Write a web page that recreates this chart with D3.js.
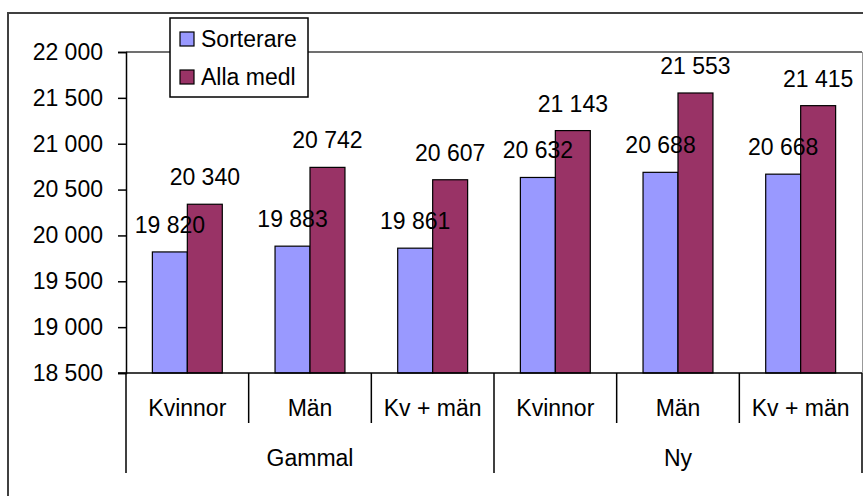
<!DOCTYPE html>
<html lang="sv">
<head>
    <meta charset="UTF-8">
    <title>Sorterare vs Alla medl</title>
    <style>
        body { margin: 0; background: #fff; }
        svg { display: block; font-family: "Liberation Sans", Arial, sans-serif; }
    </style>
</head>
<body>
<div id="chart"></div>
<script src="https://d3js.org/d3.v7.min.js"></script>
<script>
    // Data
    const groups = ["Gammal", "Ny"];
    const categories = ["Kvinnor", "Män", "Kv + män"];
    const seriesNames = ["Sorterare", "Alla medl"];
    const sorterare = [19820, 19883, 19861, 20632, 20688, 20668];
    const allaMedl = [20340, 20742, 20607, 21143, 21553, 21415];
    const yTicks = [18500, 19000, 19500, 20000, 20500, 21000, 21500, 22000];

    const colors = { "Sorterare": "#9999ff", "Alla medl": "#993366" };

    const width = 863, height = 496;
    const plot = { left: 126, right: 862, top: 52, bottom: 373 };

    const svg = d3.select("#chart").append("svg")
        .attr("width", width)
        .attr("height", height);

    // outer chart border (runs off the right and bottom edge)
    svg.append("rect")
        .attr("x", 8).attr("y", 13)
        .attr("width", 900).attr("height", 600)
        .attr("fill", "none")
        .attr("stroke", "#404040")
        .attr("stroke-width", 2);

    const fmt = d3.formatLocale({ decimal: ",", thousands: " ", grouping: [3], currency: ["", " kr"] }).format(",d");

    // one slot per group/category pair
    const slots = [];
    groups.forEach(g => categories.forEach(c => slots.push(g + "|" + c)));

    const x = d3.scaleBand().domain(slots).range([plot.left, plot.right]).padding(0);
    const xInner = d3.scaleBand().domain(seriesNames)
        .range([x.bandwidth() * 0.215, x.bandwidth() * 0.785]);
    const y = d3.scaleLinear().domain([18500, 22000]).range([plot.bottom, plot.top]);

    // plot area top + right edge
    svg.append("line")
        .attr("x1", plot.left).attr("x2", plot.right)
        .attr("y1", plot.top).attr("y2", plot.top)
        .attr("stroke", "#404040").attr("stroke-width", 1.5);
    svg.append("line")
        .attr("x1", plot.right + 0.5).attr("x2", plot.right + 0.5)
        .attr("y1", plot.top).attr("y2", plot.bottom)
        .attr("stroke", "#999");

    // y axis
    const yAxis = svg.append("g")
        .attr("transform", `translate(${plot.left},0)`)
        .call(d3.axisLeft(y).tickValues(yTicks).tickFormat(fmt).tickSize(8).tickPadding(15));
    yAxis.select(".domain").attr("stroke", "#000").attr("stroke-width", 1.5);
    yAxis.selectAll(".tick line").attr("stroke", "#000").attr("stroke-width", 1.5);
    yAxis.selectAll(".tick text")
        .attr("fill", "#000")
        .style("font-size", "23px")
        .style("font-family", "'Liberation Sans', Arial, sans-serif");

    // bars
    const rows = slots.map((s, i) => ({ slot: s, values: [
        { name: seriesNames[0], value: sorterare[i] },
        { name: seriesNames[1], value: allaMedl[i] }
    ] }));

    const slotG = svg.append("g").selectAll("g")
        .data(rows).join("g")
        .attr("transform", d => `translate(${x(d.slot)},0)`);

    slotG.selectAll("rect")
        .data(d => d.values).join("rect")
        .attr("x", d => xInner(d.name))
        .attr("y", d => y(d.value))
        .attr("width", xInner.bandwidth())
        .attr("height", d => y(18500) - y(d.value))
        .attr("fill", d => colors[d.name])
        .attr("stroke", "#000")
        .attr("stroke-width", 1.2);

    slotG.selectAll("text")
        .data(d => d.values).join("text")
        .attr("x", d => xInner(d.name) + xInner.bandwidth() / 2)
        .attr("y", d => y(d.value) - 19)
        .attr("text-anchor", "middle")
        .style("font-size", "23px")
        .attr("fill", "#000")
        .text(d => fmt(d.value));

    // category axis
    svg.append("line")
        .attr("x1", plot.left - 8).attr("x2", plot.right)
        .attr("y1", plot.bottom).attr("y2", plot.bottom)
        .attr("stroke", "#000").attr("stroke-width", 1.5);

    slots.forEach((s, i) => {
        const edge = x(s);
        const isGroupEdge = i % categories.length === 0;
        svg.append("line")
            .attr("x1", edge).attr("x2", edge)
            .attr("y1", plot.bottom).attr("y2", isGroupEdge ? 473 : 423)
            .attr("stroke", "#000").attr("stroke-width", 1.5);
    });
    svg.append("line")
        .attr("x1", plot.right).attr("x2", plot.right)
        .attr("y1", plot.bottom).attr("y2", 473)
        .attr("stroke", "#000").attr("stroke-width", 1.5);

    svg.append("g").selectAll("text")
        .data(slots).join("text")
        .attr("x", d => x(d) + x.bandwidth() / 2)
        .attr("y", 416)
        .attr("text-anchor", "middle")
        .style("font-size", "23px")
        .text(d => d.split("|")[1]);

    svg.append("g").selectAll("text")
        .data(groups).join("text")
        .attr("x", (g, i) => x(slots[i * categories.length]) + x.bandwidth() * categories.length / 2)
        .attr("y", 466)
        .attr("text-anchor", "middle")
        .style("font-size", "23px")
        .text(d => d);

    // legend
    const legend = svg.append("g");
    legend.append("rect")
        .attr("x", 170).attr("y", 18)
        .attr("width", 138).attr("height", 79)
        .attr("fill", "#fff")
        .attr("stroke", "#000").attr("stroke-width", 1.5);

    const item = legend.selectAll("g.item")
        .data(seriesNames).join("g")
        .attr("class", "item")
        .attr("transform", (d, i) => `translate(180,${32 + i * 38})`);
    item.append("rect")
        .attr("width", 14).attr("height", 14)
        .attr("fill", d => colors[d])
        .attr("stroke", "#000").attr("stroke-width", 1.2);
    item.append("text")
        .attr("x", 21).attr("y", 15)
        .style("font-size", "23px")
        .text(d => d);
</script>
</body>
</html>
